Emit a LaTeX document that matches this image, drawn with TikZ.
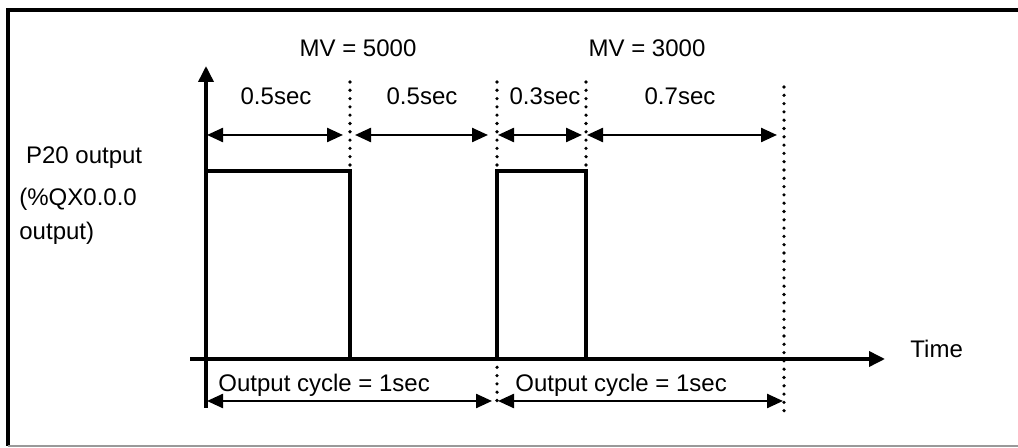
\documentclass[tikz,border=0pt]{standalone}
\usepackage{fontspec}
\setmainfont{Liberation Sans}
\usetikzlibrary{arrows.meta}

\begin{document}
\begin{tikzpicture}[
  x=0.5pt, y=-0.5pt,
  font=\fontsize{12}{14.4}\selectfont,
  every node/.style={inner sep=0pt},
  frame/.style={line width=1.9pt, draw=black},
  axis/.style={-{Triangle[length=8pt, width=7.5pt]}, line width=1.8pt},
  pulse/.style={line width=1.8pt, line join=miter},
  dim/.style={{Triangle[length=8pt, width=7pt]}-{Triangle[length=8pt, width=7pt]}, line width=1.2pt},
  marker/.style={line width=1.8pt, line cap=round, dash pattern=on 0pt off 4.15pt}
]
\useasboundingbox (0,0) rectangle (1018,448);

% frame
\draw[frame] (1018,10) -- (8,10) -- (8,446);
\draw[black!40, line width=0.6pt] (8,446) -- (1018,446);

% time marks (top row and bottom row)
\foreach \n/\x in {0/206, 1/350, 2/497, 3/586, 4/784} {
  \coordinate (m\n) at (\x,135);
  \coordinate (c\n) at (\x,401);
}
\coordinate (origin) at (206,359);
\coordinate (ytop) at (206,66);
\coordinate (ybot) at (206,408);
\coordinate (tstart) at (190,359);
\coordinate (tend) at (885,359);

% axes
\draw[axis] (ybot) -- (ytop);
\draw[axis] (tstart) -- (tend);

% output pulses
\draw[pulse] (origin |- 0,171) -- (m1 |- 0,171) -- (m1 |- origin);
\draw[pulse] (m2 |- origin) -- (m2 |- 0,171) -- (m3 |- 0,171) -- (m3 |- origin);

% dotted markers
\draw[marker] (m1 |- 0,82) -- (m1 |- 0,170);
\draw[marker] (m2 |- 0,82) -- (m2 |- 0,168);
\draw[marker] (m3 |- 0,82) -- (m3 |- 0,167);
\draw[marker] (m2 |- origin) -- (m2 |- 0,406);
\draw[marker] (m4 |- 0,87) -- (m4 |- 0,413);

% durations
\draw[dim, shorten <=0.5pt, shorten >=3.5pt] (m0) -- (m1);
\draw[dim, shorten <=2.5pt, shorten >=4.5pt] (m1) -- (m2);
\draw[dim, shorten <=0.5pt, shorten >=2pt] (m2) -- (m3);
\draw[dim, shorten <=0.5pt, shorten >=3.5pt] (m3) -- (m4);
\draw[dim, shorten <=0.5pt, shorten >=2.5pt] (c0) -- (c2);
\draw[dim, shorten <=0.5pt, shorten >=0.5pt] (c2) -- (c4);

% labels
\node (mv1) at (358,48) {MV = 5000};
\node (mv2) at (647,48) {MV = 3000};
\node (on1) at (276,96) {0.5sec};
\node (off1) at (422,96) {0.5sec};
\node (on2) at (545,96) {0.3sec};
\node (off2) at (680,96) {0.7sec};
\node[anchor=base west] (cyc1) at (218,392) {Output cycle = 1sec};
\node[anchor=base west] (cyc2) at (515,392) {Output cycle = 1sec};
\node[anchor=base west] (time) at (910,358) {Time};
\node[anchor=base west] (ylab1) at (19,164) {~P20 output};
\node[anchor=base west] (ylab2) at (19,206) {(\%QX0.0.0};
\node[anchor=base west] (ylab3) at (19,240) {output)};
\end{tikzpicture}
\end{document}
